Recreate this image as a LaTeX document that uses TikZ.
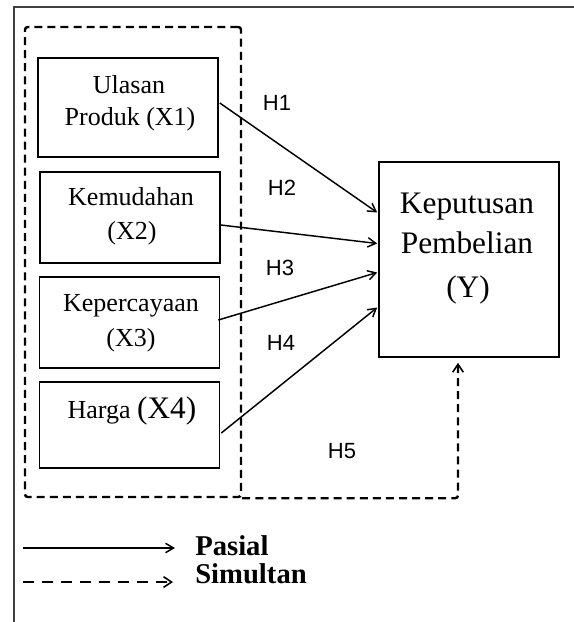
\documentclass[tikz,border=0pt]{standalone}
\usepackage{fontspec}
\setmainfont{Liberation Serif}
\newfontfamily\hfont{Liberation Sans}
\usetikzlibrary{arrows.meta,calc}
\tikzset{
  box/.style={draw=black, line width=1.2pt, minimum width=180*0.75pt, inner sep=0pt},
  btxt/.style={anchor=base, inner sep=0pt, font=\fontsize{19.5}{21}\selectfont},
  ytxt/.style={anchor=base, inner sep=0pt, font=\fontsize{23.5}{25}\selectfont},
  htxt/.style={inner sep=0pt, font=\hfont\fontsize{16.5}{18}\selectfont},
  legtxt/.style={anchor=base west, inner sep=0pt, font=\bfseries\fontsize{21.5}{23}\selectfont},
  conn/.style={line width=1.1pt, -{Straight Barb[length=6pt,width=7pt,line width=1.1pt]}},
  grpdash/.style={line width=1.8pt, dash pattern=on 6pt off 3.8pt},
  simdash/.style={line width=1.4pt, dash pattern=on 8.25pt off 6pt},
}
\begin{document}
\begin{tikzpicture}[x=0.75pt,y=-0.75pt]
\useasboundingbox (0,0) rectangle (574,622);
% outer frame
\draw[line width=1.6pt, black!75] (14,622) -- (14,7) -- (574,7);
% group dashed box
\node[grpdash, draw, rounded corners=2pt, minimum width=216*0.75pt, minimum height=470*0.75pt, inner sep=0pt] (grp) at (133,262) {};
% boxes
\node[box, minimum width=180*0.75pt, minimum height=99*0.75pt] (x1) at (128,107.5) {};
\node[box, minimum height=91*0.75pt] (x2) at (130,217.5) {};
\node[box, minimum height=91*0.75pt] (x3) at (129.5,322.5) {};
\node[box, minimum height=86*0.75pt] (x4) at (129.5,425) {};
\node[box, minimum width=180*0.75pt, minimum height=195*0.75pt] (y) at (469,259.5) {};
% texts
\node[btxt] (t1a) at (129,93) {Ulasan};
\node[btxt] (t1b) at (130,125) {Produk (X1)};
\node[btxt] (t2a) at (131,205) {Kemudahan};
\node[btxt] (t2b) at (132,239) {(X2)};
\node[btxt] (t3a) at (131,311) {Kepercayaan};
\node[btxt] (t3b) at (131,346) {(X3)};
\node[btxt] (t4) at (132,418) {Harga {\fontsize{23.5}{25}\selectfont(X4)}};
\node[ytxt] (ya) at (467,213) {Keputusan};
\node[ytxt] (yb) at (467,253) {Pembelian};
\node[ytxt] (yc) at (468,297) {(Y)};
% hypothesis labels
\node[htxt] (h1) at (277,103) {H1};
\node[htxt] (h2) at (282,188) {H2};
\node[htxt] (h3) at (280,268) {H3};
\node[htxt] (h4) at (281,343) {H4};
\node[htxt] (h5) at (342,451) {H5};
% connectors
\draw[conn] ($(x1.east)+(1,-4.5)$) -- ($(y.west)+(-1,-47)$);
\draw[conn] ($(x2.east)+(0,7.5)$) -- ($(y.west)+(-1,-16)$);
\draw[conn] ($(x3.east)+(-2,-2.5)$) -- ($(y.west)+(-1,13)$);
\draw[conn] ($(x4.east)+(1,8)$) -- ($(y.west)+(-1,48)$);
\coordinate (ytarget) at ($(y.south)+(-11,5)$);
\draw[grpdash, rounded corners=2pt, -{Straight Barb[length=6pt,width=8pt,line width=1.2pt]}] (grp.south east) -| (ytarget);
% legend
\coordinate (l1a) at (23,548);
\coordinate (l1b) at (175,548);
\coordinate (l2a) at (23,582);
\coordinate (l2b) at (173,582);
\draw[conn] (l1a) -- (l1b);
\draw[simdash, -{Straight Barb[length=6pt,width=8pt,line width=1.2pt]}] (l2a) -- (l2b);
\node[legtxt] (lp) at (195,555) {Pasial};
\node[legtxt] (ls) at (195,583) {Simultan};
\end{tikzpicture}
\end{document}
